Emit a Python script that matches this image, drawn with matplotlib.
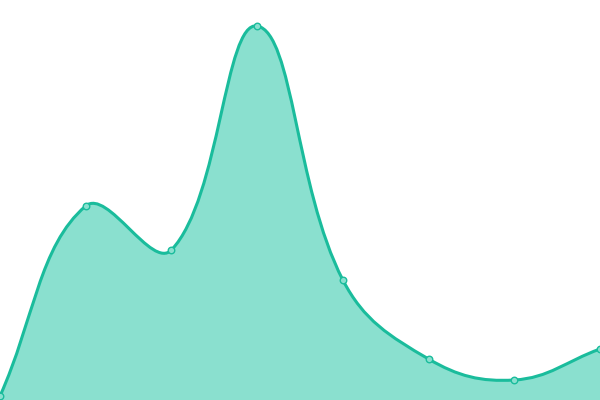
import numpy as np
import matplotlib
matplotlib.use("Agg")
import matplotlib.pyplot as plt
from matplotlib.path import Path
from matplotlib.patches import PathPatch

# values (y axis 0..400)
labels = ["A", "B", "C", "D", "E", "F", "G", "H"]
values = [4, 194, 150, 374, 120, 41, 20, 51]

line_color = "#1abc9c"
fill_color = "#8ae0cf"
tension = 0.4

W, H = 600, 400
fig = plt.figure(figsize=(W / 100, H / 100), dpi=100)
ax = fig.add_axes([0, 0, 1, 1])
ax.set_xlim(0, len(values) - 1)
ax.set_ylim(0, 400)
ax.axis("off")

# work in pixel-like units so the spline tension behaves like a canvas chart
sx = W / (len(values) - 1)
pts = np.array([[i * sx, v] for i, v in enumerate(values)], dtype=float)


def control_points(p):
    n = len(p)
    cps = []
    for i in range(n):
        prev = p[i - 1] if i > 0 else p[i]
        nxt = p[i + 1] if i < n - 1 else p[i]
        d01 = np.hypot(*(p[i] - prev))
        d12 = np.hypot(*(nxt - p[i]))
        tot = d01 + d12
        s01 = d01 / tot if tot else 0
        s12 = d12 / tot if tot else 0
        fa = tension * s01
        fb = tension * s12
        c_prev = p[i] - fa * (nxt - prev)
        c_next = p[i] + fb * (nxt - prev)
        cps.append((c_prev, c_next))
    return cps


cps = control_points(pts)
verts = [pts[0]]
codes = [Path.MOVETO]
for i in range(len(pts) - 1):
    verts += [cps[i][1], cps[i + 1][0], pts[i + 1]]
    codes += [Path.CURVE4] * 3
verts = np.array(verts)
verts[:, 0] /= sx

line_path = Path(verts, codes)
fill_verts = np.vstack([verts, [[len(values) - 1, 0], [0, 0], verts[0]]])
fill_codes = codes + [Path.LINETO, Path.LINETO, Path.CLOSEPOLY]
fill_path = Path(fill_verts, fill_codes)

ax.add_patch(PathPatch(fill_path, facecolor=fill_color, edgecolor="none", zorder=1))
ax.add_patch(PathPatch(line_path, facecolor="none", edgecolor=line_color, lw=2.2, zorder=2))
ax.scatter(range(len(values)), values, s=22, facecolor=fill_color,
           edgecolor=line_color, linewidth=1, zorder=3, clip_on=False)

fig.savefig("out.png", dpi=100)
